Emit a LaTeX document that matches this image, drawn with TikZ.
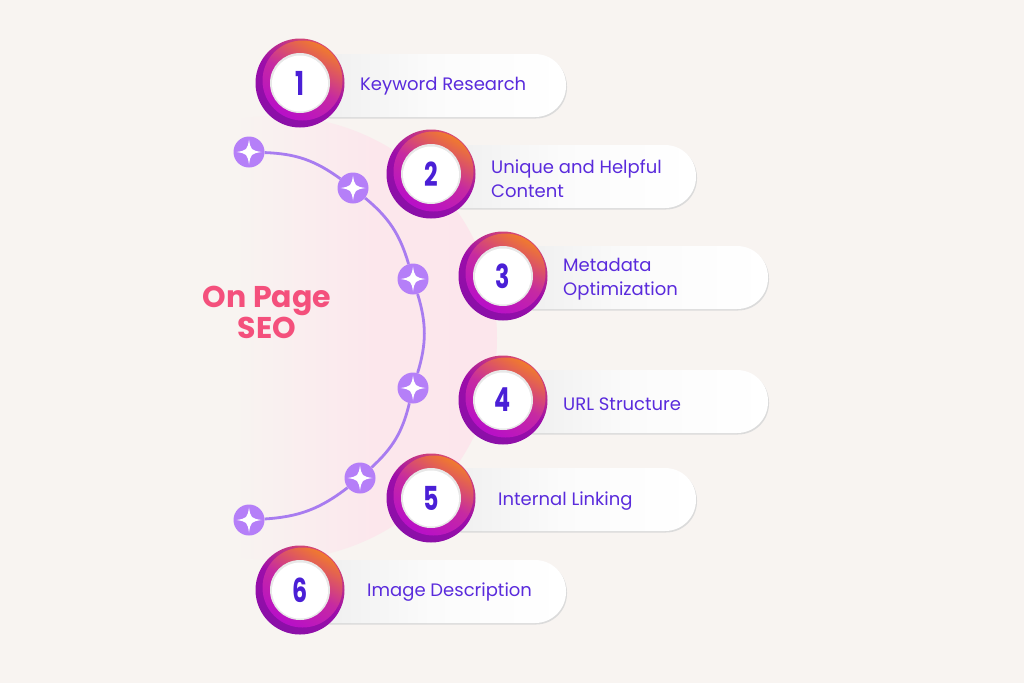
\documentclass[tikz,border=0pt]{standalone}
\usepackage{fontspec}
\setmainfont{Poppins}
\newfontfamily\numfont{Poppins}
\definecolor{bgc}{HTML}{F8F4F1}
\definecolor{pinkc}{HTML}{FCE6EC}
\definecolor{lilac}{HTML}{B57FF8}
\definecolor{arcc}{HTML}{A87CF0}
\definecolor{inkc}{HTML}{5A2BDC}
\definecolor{numc}{HTML}{4A1FD6}
\definecolor{seoc}{HTML}{F4507C}
\definecolor{orangec}{HTML}{F07A2E}
\definecolor{magentac}{HTML}{B80FC8}
\definecolor{darkm}{HTML}{8A0FA8}
\tikzset{
  pill/.style={rectangle,rounded corners=31pt,minimum height=63pt,inner sep=0pt,left color=gray!14,right color=white,middle color=gray!3},
  pillshade/.style={rectangle,rounded corners=31pt,minimum height=63pt,inner sep=0pt,fill=black!14},
  ringout/.style={circle,inner sep=0pt,minimum size=89pt,shading=axis,top color=orangec!55!magentac,bottom color=darkm,middle color=magentac!85!black,shading angle=-30},
  ringin/.style={circle,inner sep=0pt,minimum size=80pt,shading=axis,top color=orangec,bottom color=magentac,middle color=magentac!75!orangec,shading angle=-30},
  rim/.style={circle,inner sep=0pt,minimum size=60pt,fill=black!9},
  dial/.style={circle,inner sep=0pt,minimum size=56pt,fill=white},
  numlab/.style={inner sep=0pt,text=numc,font=\numfont\fontsize{33}{33}\selectfont\bfseries,xscale=0.72},
  itemlab/.style={inner sep=0pt,text=inkc,anchor=west,align=left,font=\fontsize{18}{24}\selectfont},
  starnode/.style={circle,inner sep=0pt,minimum size=31pt,fill=lilac},
  arcline/.style={draw=arcc,line width=2.8pt},
  sparkle/.style={fill=white},
  title/.style={inner sep=0pt,text=seoc,align=center,font=\fontsize{30}{31}\selectfont\bfseries}
}
\newcommand{\stepitem}[6]{% name, cx, cy, pill right, number, pill centre y
  \node[pillshade,minimum width={#4-#2+2pt}] (#1s) at ({(#2+#4)/2},{#6+1.5}) {};
  \node[pill,minimum width={#4-#2}] (#1p) at ({(#2+#4)/2},#6) {};
  \node[ringout] (#1o) at (#2,#3) {};
  \node[ringin] (#1i) at (#2+2.5,#3-2.5) {};
  \node[rim] (#1r) at (#2,#3) {};
  \node[dial] (#1d) at (#2,#3+0.5) {};
  \node[numlab] (#1n) at (#2,#3) {#5};
}
\newcommand{\sparkleat}[1]{%
  \fill[sparkle,shift={(#1.center)}] (0,-12.5) .. controls (1.6,-2.2) and (2.2,-1.6) .. (12.5,0)
    .. controls (2.2,1.6) and (1.6,2.2) .. (0,12.5)
    .. controls (-1.6,2.2) and (-2.2,1.6) .. (-12.5,0)
    .. controls (-2.2,-1.6) and (-1.6,-2.2) .. (0,-12.5) -- cycle;
}
\begin{document}
\begin{tikzpicture}[x=1pt,y=-1pt]
\useasboundingbox (0,0) rectangle (1024,683);
\fill[bgc] (0,0) rectangle (1024,683);
\begin{scope}
  \clip (275,338) circle (222);
  \shade[left color=bgc,right color=pinkc,middle color=pinkc!92!bgc] (235,100) rectangle (510,580);
\end{scope}
\node[starnode] (a) at (249,152) {};
\node[starnode] (b) at (353,188) {};
\node[starnode] (c) at (413,279) {};
\node[starnode] (d) at (413,388) {};
\node[starnode] (e) at (360,478) {};
\node[starnode] (f) at (249,520) {};
\draw[arcline] (a) to[bend left=17] (b);
\draw[arcline] (b) to[bend left=17] (c);
\draw[arcline] (c) to[bend left=17] (d);
\draw[arcline] (d) to[bend left=17] (e);
\draw[arcline] (e) to[bend left=17] (f);
\sparkleat{a}\sparkleat{b}\sparkleat{c}\sparkleat{d}\sparkleat{e}\sparkleat{f}
\node[title] (seo) at (267,312.5) {On Page\\SEO};
\stepitem{s1}{300}{83}{566}{1}{85.5}
\stepitem{s2}{431}{174}{696}{2}{176.5}
\stepitem{s3}{503}{276}{768}{3}{277.5}
\stepitem{s4}{503}{400}{768}{4}{401.5}
\stepitem{s5}{431}{498}{696}{5}{499.5}
\stepitem{s6}{300}{590}{566}{6}{591.5}
\node[itemlab] (t1) at (360,86.5) {Keyword Research};
\node[itemlab] (t2) at (491,178.5) {Unique and Helpful\\Content};
\node[itemlab] (t3) at (563,279) {Metadata\\Optimization};
\node[itemlab] (t4) at (563,404.5) {URL Structure};
\node[itemlab] (t5) at (498,501.5) {Internal Linking};
\node[itemlab] (t6) at (367,592) {Image Description};
\end{tikzpicture}
\end{document}
